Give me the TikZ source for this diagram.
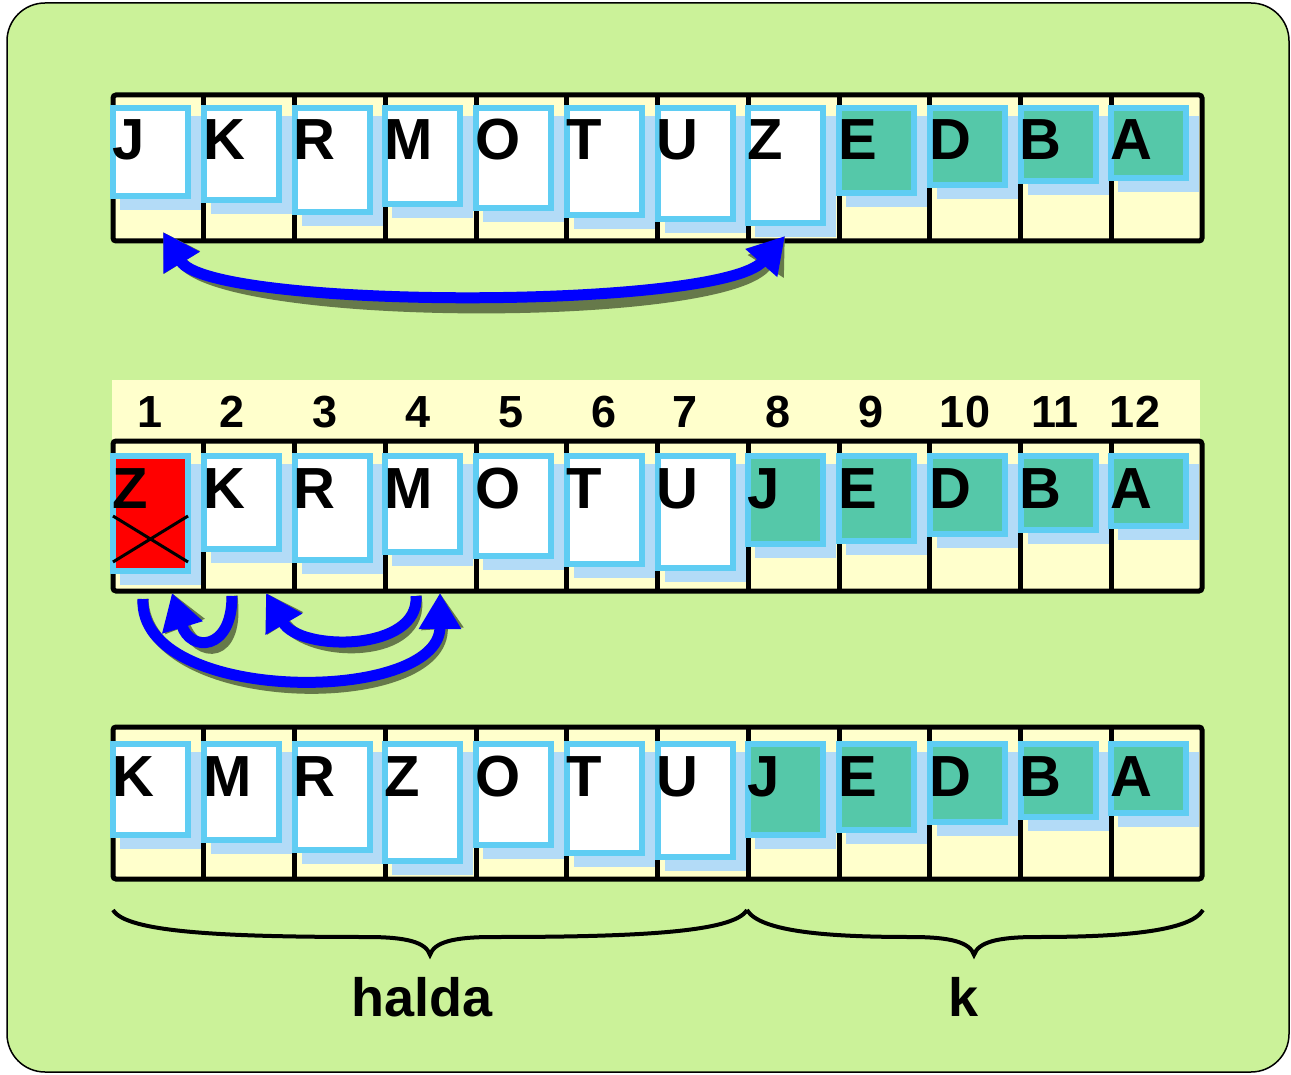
\documentclass[tikz,border=0pt]{standalone}
\usepackage{fontspec}
\setmainfont{Liberation Sans}
\usetikzlibrary{arrows.meta}
\definecolor{bggreen}{HTML}{CBF299}
\definecolor{paleyel}{HTML}{FFFFCC}
\definecolor{cardsh}{HTML}{B3DBF7}
\definecolor{cardbd}{HTML}{5FCDF3}
\definecolor{tealc}{HTML}{55C8A9}
\definecolor{arrshc}{HTML}{66794A}
\definecolor{redc}{HTML}{FF0000}
\begin{document}
\begin{tikzpicture}[x=0.5pt,y=-0.5pt,
  arrline/.style={line width=2.5pt, draw=black},
  cardline/.style={line width=3pt, draw=cardbd},
  letter/.style={anchor=base west, inner sep=0pt, font=\fontsize{29}{29}\selectfont\bfseries},
  numlab/.style={anchor=base, inner sep=0pt, font=\fontsize{22.5}{22.5}\selectfont\bfseries},
  biglab/.style={anchor=base, inner sep=0pt, font=\fontsize{27}{27}\selectfont\bfseries},
  brc/.style={line width=2pt, draw=black},
  tipA/.style={-{Triangle[length=18pt,width=20pt]}},
  tipAA/.style={{Triangle[length=18pt,width=20pt]}-{Triangle[length=18pt,width=20pt]}},
  arrmain/.style={line width=5.5pt, draw=blue},
  arrshad/.style={line width=5.5pt, draw=arrshc}]
\useasboundingbox (0,0) rectangle (1291,1075);
% background
\draw[line width=0.75pt, fill=bggreen, rounded corners=19pt] (7,3) rectangle (1289,1072);
% number bar
\fill[paleyel] (112,380) rectangle (1200,440);
% arrays
\foreach \yt/\yb in {95/241, 441/591, 727/879} {
  \fill[paleyel] (113,\yt) rectangle (1202,\yb);
  \foreach \k in {1,...,11} {
    \draw[arrline] ({113+\k*90.75},\yt) -- ({113+\k*90.75},\yb);
  }
  \draw[arrline, rounded corners=1.5pt] (113,\yt) rectangle (1202,\yb);
}
% row 1 cards
\foreach \l/\b/\c [count=\i] in {J/199/white,K/203/white,R/215/white,M/207/white,O/211/white,T/218/white,U/222/white,Z/226/white,E/196/tealc,D/188/tealc,B/184/tealc,A/181/tealc} {
  \pgfmathsetmacro{\xl}{113+(\i-1)*90.75-3}
  \fill[cardsh] (\xl+10,116) rectangle (\xl+91,\b+11);
  \draw[cardline, fill=\c] (\xl+3,108) rectangle (\xl+78,\b-3);
  \node[letter] (ra\i) at (\xl+2,160) {\l};
}
% row 2 cards
\foreach \l/\b/\c [count=\i] in {Z/574/redc,K/552/white,R/563/white,M/555/white,O/559/white,T/567/white,U/571/white,J/547/tealc,E/544/tealc,D/537/tealc,B/533/tealc,A/529/tealc} {
  \pgfmathsetmacro{\xl}{113+(\i-1)*90.75-3}
  \fill[cardsh] (\xl+10,464) rectangle (\xl+91,\b+11);
  \draw[cardline, fill=\c] (\xl+3,456) rectangle (\xl+78,\b-3);
  \node[letter] (rb\i) at (\xl+2,508) {\l};
}
% row 3 cards
\foreach \l/\b/\c [count=\i] in {K/838/white,M/843/white,R/853/white,Z/864/white,O/848/white,T/856/white,U/860/white,J/838/tealc,E/833/tealc,D/825/tealc,B/820/tealc,A/816/tealc} {
  \pgfmathsetmacro{\xl}{113+(\i-1)*90.75-3}
  \fill[cardsh] (\xl+10,752) rectangle (\xl+91,\b+11);
  \draw[cardline, fill=\c] (\xl+3,744) rectangle (\xl+78,\b-3);
  \node[letter] (rc\i) at (\xl+2,796) {\l};
}
% cross on Z
\draw[line width=1.5pt] (113,516) -- (188,562);
\draw[line width=1.5pt] (113,562) -- (188,516);
% numbers
\foreach \n/\xx in {1/150,2/232,3/325,4/418,5/511,6/604,7/685,8/778,9/871,10/965,11/1055,12/1135} {
  \node[numlab] (n\n) at (\xx,427) {\n};
}
% arrow coordinates
\coordinate (tL) at (163,232);
\coordinate (tR) at (785,236);
\coordinate (bS) at (143,599);
\coordinate (bE) at (440,593);
\coordinate (sS) at (232,596);
\coordinate (sE) at (172,593);
\coordinate (mS) at (416,596);
\coordinate (mE) at (266,593);
% top arrow
\begin{scope}[shift={(10,13)}]
\draw[arrshad, tipAA] (tL) .. controls (210,310) and (720,310) .. (tR);
\end{scope}
\draw[arrmain, tipAA] (tL) .. controls (210,310) and (720,310) .. (tR);
% row 2 arrows
\begin{scope}[shift={(8,8)}]
\draw[arrshad, tipA] (bS) .. controls (138,705) and (440,705) .. (bE);
\draw[arrshad, tipA] (sS) .. controls (232,652) and (190,652) .. (sE);
\draw[arrshad, tipA] (mS) .. controls (420,652) and (300,652) .. (mE);
\end{scope}
\draw[arrmain, tipA] (bS) .. controls (138,705) and (440,705) .. (bE);
\draw[arrmain, tipA] (sS) .. controls (232,652) and (190,652) .. (sE);
\draw[arrmain, tipA] (mS) .. controls (420,652) and (300,652) .. (mE);
% braces
\draw[brc] (113,910) .. controls (126,932) and (220,937) .. (367,937) .. controls (406,937) and (426,942) .. (430,955) .. controls (434,942) and (454,937) .. (493,937) .. controls (640,937) and (734,932) .. (747,910);
\draw[brc] (747,910) .. controls (760,932) and (830,937) .. (911,937) .. controls (950,937) and (970,942) .. (974,955) .. controls (978,942) and (998,937) .. (1037,937) .. controls (1118,937) and (1190,932) .. (1203,910);
% labels
\node[biglab] (halda) at (422,1016) {halda};
\node[biglab] (klab) at (964,1016) {k};
\end{tikzpicture}
\end{document}
